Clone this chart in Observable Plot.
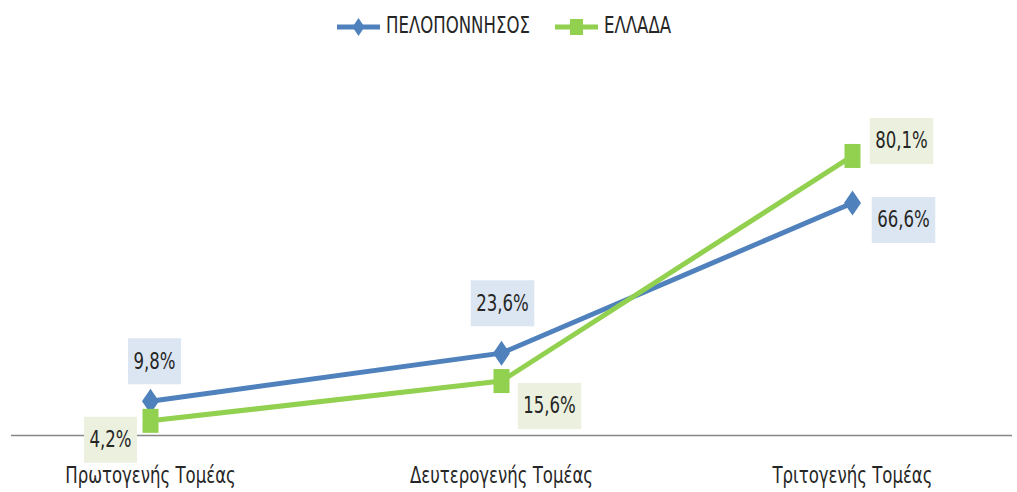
<!DOCTYPE html>
<html><head><meta charset="utf-8">
<script src="https://cdn.jsdelivr.net/npm/d3@7"></script>
<script src="https://cdn.jsdelivr.net/npm/@observablehq/plot@0.6"></script>
<style>
body{margin:0;background:#fff;font-family:"Liberation Sans Narrow","DejaVu Sans Condensed","Arial Narrow",sans-serif;color:#262626;}
#legend{position:relative;height:50px;}
.item{position:absolute;top:0;height:50px;display:flex;align-items:center;font-size:23px;white-space:nowrap;}
.item svg{margin-right:5px;}
.item span{display:inline-block;transform:scaleX(0.8);transform-origin:left center;}
</style></head><body>
<div id="legend"></div><div id="chart"></div>
<script>
const categories = ["Πρωτογενής Τομέας", "Δευτερογενής Τομέας", "Τριτογενής Τομέας"];
const seriesNames = ["ΠΕΛΟΠΟΝΝΗΣΟΣ", "ΕΛΛΑΔΑ"];
const peloponnisos = [9.8, 23.6, 66.6];
const ellada = [4.2, 15.6, 80.1];

// styles / layout (not data)
const colors = ["#4f81bd", "#92d050"];
const labelBg = ["#dce6f2", "#ebf1de"];
const labelOffsets = [[[4, -40], [1, -50], [51, 17]], [[-40, 19], [48, 25], [49, -15]]];
const FONT = '"Liberation Sans Narrow","DejaVu Sans Condensed","Arial Narrow",sans-serif';
const NARROW = 0.8;

const seriesValues = [peloponnisos, ellada];
const fmt = v => v.toFixed(1).replace(".", ",") + "%";

const diamond = {draw(ctx) { ctx.moveTo(0, -12.5); ctx.lineTo(8.5, 0); ctx.lineTo(0, 12.5); ctx.lineTo(-8.5, 0); ctx.closePath(); }};
const square = {draw(ctx) { ctx.rect(-8, -12, 16, 24); }};
const symbols = [diamond, square];
const rectSym = (w, h) => ({draw(ctx) { ctx.rect(-w / 2, -h / 2, w, h); }});

// legend
const legend = document.getElementById("legend");
const legendLeft = [337, 555];
seriesNames.forEach((name, i) => {
  const d = document.createElement("div");
  d.className = "item";
  d.style.left = legendLeft[i] + "px";
  const shape = i === 0
    ? `<path d="M21.5,18 L27.5,27 L21.5,36 L15.5,27 Z" fill="${colors[i]}"/>`
    : `<rect x="15" y="19" width="13" height="16" fill="${colors[i]}"/>`;
  d.innerHTML = `<svg width="44" height="50" viewBox="0 0 44 50"><line x1="0" x2="43" y1="27" y2="27" stroke="${colors[i]}" stroke-width="5"/>${shape}</svg><span>${name}</span>`;
  legend.appendChild(d);
});

const rows = seriesNames.map((s, si) => categories.map((c, ci) => ({series: s, cat: c, value: seriesValues[si][ci]})));

const marks = [Plot.ruleY([0], {stroke: "#868686", strokeWidth: 1.5})];
rows.forEach((r, si) => {
  marks.push(Plot.line(r, {x: "cat", y: "value", stroke: colors[si], strokeWidth: 5}));
});
rows.forEach((r, si) => {
  marks.push(Plot.dot(r, {x: "cat", y: "value", fill: colors[si], stroke: "none", r: 8, symbol: symbols[si]}));
});
rows.forEach((r, si) => {
  r.forEach((d, ci) => {
    const [dx, dy] = labelOffsets[si][ci];
    const txt = fmt(d.value);
    const w = txt.length * 10.5 + 11;
    marks.push(Plot.dot([d], {x: "cat", y: "value", dx, dy, r: 10, fill: labelBg[si], stroke: "none", symbol: rectSym(w, 46)}));
    marks.push(Plot.text([d], {x: "cat", y: "value", dx, dy, text: v => fmt(v.value), fontSize: 23, fill: "#262626"}));
  });
});

const chart = Plot.plot({
  width: 1017,
  height: 442,
  marginLeft: 11,
  marginRight: 5,
  marginTop: 36,
  marginBottom: 57,
  style: {fontFamily: FONT, background: "#fff", overflow: "visible"},
  x: {type: "point", domain: categories, range: [150, 852], padding: 0, label: null},
  y: {domain: [0, 100], axis: null},
  marks: [
    Plot.axisX({tickSize: 0, tickPadding: 31, fontSize: 23, label: null, fill: "#262626"}),
    ...marks
  ]
});
// narrow the glyphs horizontally around each text anchor (condensed look)
chart.querySelectorAll("text").forEach(el => {
  const x = el.getAttribute("x");
  if (x != null) el.setAttribute("x", (+x / NARROW));
  el.setAttribute("transform", ((el.getAttribute("transform") || "") + ` scale(${NARROW},1)`).trim());
});
document.getElementById("chart").appendChild(chart);
</script>
</body></html>
